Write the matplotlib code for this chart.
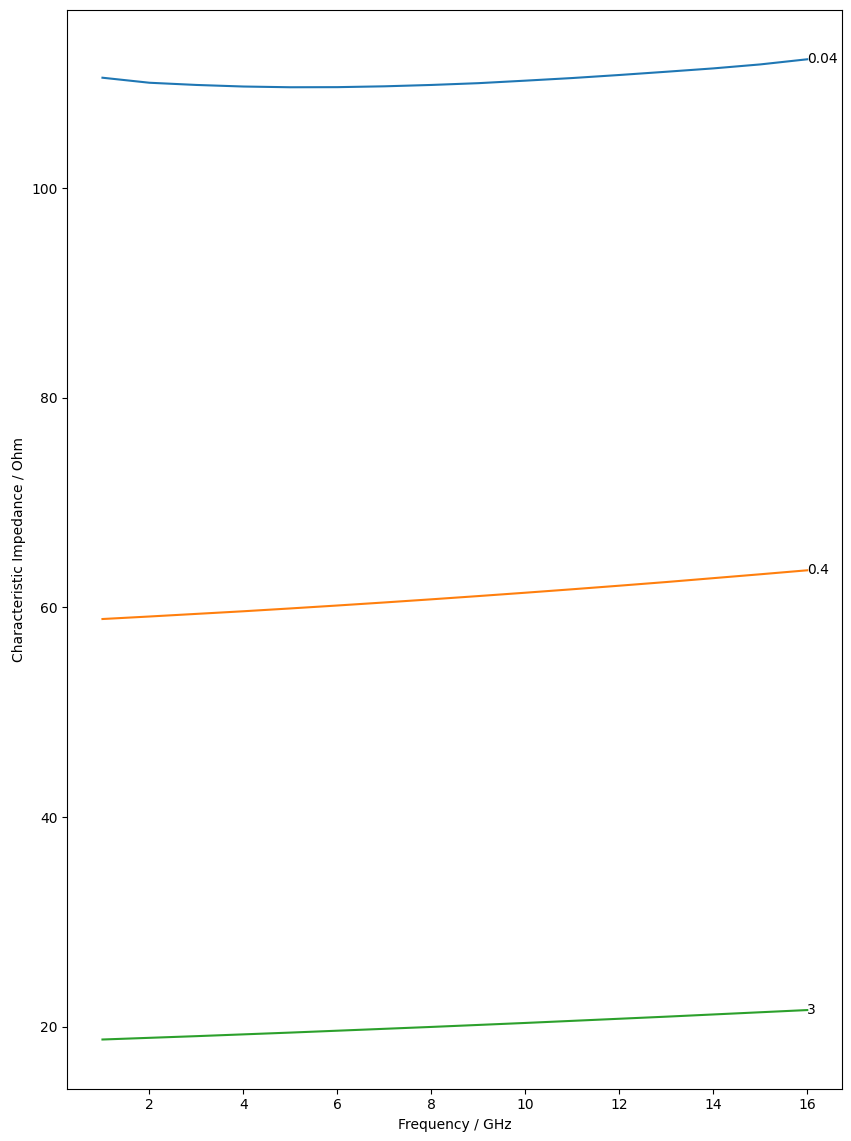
import matplotlib
matplotlib.use('Agg')
import matplotlib.pyplot as plt
import numpy as np

# frequency points in GHz
freq = np.arange(1, 17)

# characteristic impedance (Ohm), one list per curve
z_004 = [110.56, 110.08, 109.87, 109.72, 109.65, 109.66, 109.74, 109.87,
         110.04, 110.28, 110.53, 110.82, 111.13, 111.45, 111.83, 112.32]
z_04 = [58.90, 59.14, 59.39, 59.64, 59.91, 60.19, 60.48, 60.78,
        61.09, 61.41, 61.74, 62.08, 62.43, 62.80, 63.17, 63.55]
z_3 = [18.77, 18.93, 19.09, 19.26, 19.43, 19.61, 19.79, 19.97,
       20.16, 20.35, 20.55, 20.75, 20.95, 21.16, 21.37, 21.58]

labels = ["0.04", "0.4", "3"]
curves = [z_004, z_04, z_3]

fig = plt.figure(figsize=(8.51, 11.41), dpi=100)
ax = fig.add_subplot(1, 1, 1)
fig.subplots_adjust(left=0.079, right=0.990, top=0.991, bottom=0.046)

for name, z in zip(labels, curves):
    ax.plot(freq, z)
    # tag the end of each curve with its parameter value
    ax.text(freq[-1], z[-1], name, va='center')

ax.set_xlabel("Frequency / GHz")
ax.set_ylabel("Characteristic Impedance / Ohm")

fig.savefig("out.png")
